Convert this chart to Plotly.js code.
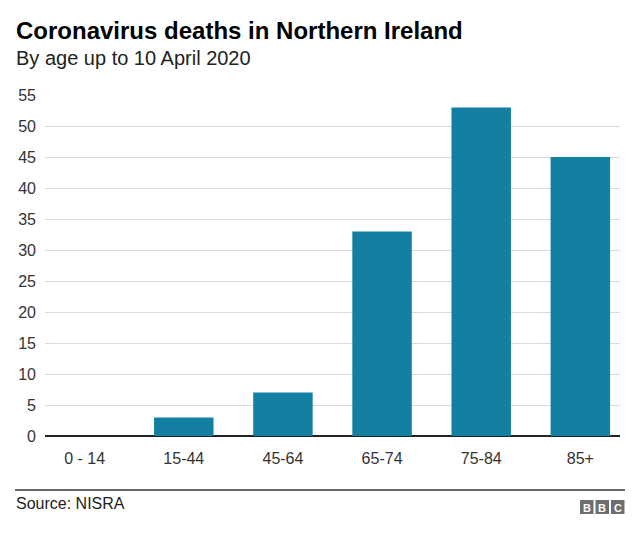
<!DOCTYPE html>
<html>
<head>
<meta charset="utf-8">
<script src="https://cdn.plot.ly/plotly-3.0.1.min.js"></script>
<style>
  html, body { margin: 0; padding: 0; background: #fff; }
  #chart { width: 640px; height: 534px; }
</style>
</head>
<body>
<div id="chart"></div>
<script>
const categories = ["0 - 14", "15-44", "45-64", "65-74", "75-84", "85+"];
const deaths = [0, 3, 7, 33, 53, 45];
const yTicks = [0, 5, 10, 15, 20, 25, 30, 35, 40, 45, 50, 55];

const W = 640, H = 534;
const M = { l: 45, r: 20, t: 95, b: 98 };
const px = x => (x - M.l) / (W - M.l - M.r);
const py = y => (H - M.b - y) / (H - M.t - M.b);

const font = "Liberation Sans, Arial, Helvetica, sans-serif";

const shapes = [
  { type: "line", xref: "paper", yref: "paper", x0: px(15), x1: px(625), y0: py(490), y1: py(490),
    line: { color: "#333333", width: 1.5 } }
];
const annotations = [
  { text: "<b>Coronavirus deaths in Northern Ireland</b>", xref: "paper", yref: "paper",
    x: px(14), y: py(31), xanchor: "left", yanchor: "middle", showarrow: false,
    font: { family: font, size: 24, color: "#000" } },
  { text: "By age up to 10 April 2020", xref: "paper", yref: "paper",
    x: px(14), y: py(58), xanchor: "left", yanchor: "middle", showarrow: false,
    font: { family: font, size: 20, color: "#222" } },
  { text: "Source: NISRA", xref: "paper", yref: "paper",
    x: px(14), y: py(503), xanchor: "left", yanchor: "middle", showarrow: false,
    font: { family: font, size: 16, color: "#222" } }
];
const bbc = ["B", "B", "C"];
bbc.forEach((ch, i) => {
  const x0 = 580 + i * 15.5;
  shapes.push({ type: "rect", xref: "paper", yref: "paper", x0: px(x0), x1: px(x0 + 13.5),
    y0: py(514), y1: py(500), fillcolor: "#6e6e6e", line: { width: 0 } });
  annotations.push({ text: "<b>" + ch + "</b>", xref: "paper", yref: "paper",
    x: px(x0 + 6.75), y: py(507.5), xanchor: "center", yanchor: "middle", showarrow: false,
    font: { family: font, size: 11, color: "#fff" } });
});

const data = [{
  type: "bar",
  x: categories,
  y: deaths,
  width: 0.6,
  marker: { color: "#1380A1", line: { width: 0 } },
  hoverinfo: "x+y"
}];

const layout = {
  width: W, height: H,
  margin: M,
  paper_bgcolor: "#fff", plot_bgcolor: "#fff",
  showlegend: false,
  font: { family: font, color: "#333" },
  xaxis: {
    type: "category",
    range: [-0.4, 5.4],
    showgrid: false, zeroline: false, showline: false,
    ticks: "", tickfont: { family: font, size: 16, color: "#333" },
    ticklabelstandoff: 11
  },
  yaxis: {
    range: [0, 55],
    tickvals: yTicks,
    ticktext: yTicks.map(String),
    showgrid: true, gridcolor: "#d9d9d9", gridwidth: 1,
    zeroline: true, zerolinecolor: "#222", zerolinewidth: 2,
    showline: false, ticks: "",
    tickfont: { family: font, size: 16, color: "#333" },
    ticklabelstandoff: 8
  },
  shapes, annotations
};

Plotly.newPlot("chart", data, layout, { staticPlot: true, displayModeBar: false });
</script>
</body>
</html>
